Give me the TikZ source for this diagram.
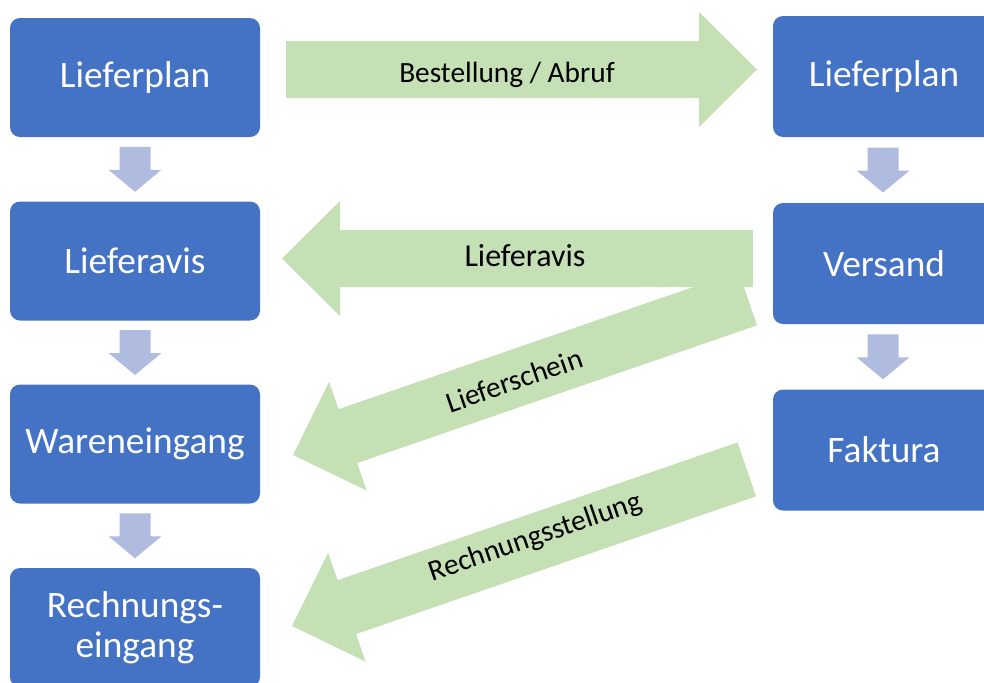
\documentclass[tikz,border=0pt]{standalone}
\usepackage{fontspec}
\setmainfont{Carlito}
\usetikzlibrary{calc}
\definecolor{boxblue}{HTML}{4472C4}
\definecolor{flowgreen}{HTML}{C5E0B4}
\definecolor{steparrow}{RGB}{175,188,224}
\tikzset{
  procbox/.style={rectangle, rounded corners=7.5pt, fill=boxblue, text=white,
    inner sep=0pt, align=center, font=\fontsize{28}{30}\selectfont},
  leftbox/.style={procbox, minimum width=187.5pt, minimum height=89.25pt},
  rightbox/.style={procbox, minimum width=166.5pt, minimum height=90.75pt},
  flowlabel/.style={font=\fontsize{22}{26}\selectfont, text=black, inner sep=0pt, anchor=base},
  pics/stepdown/.style={code={
    \fill[steparrow] (-15.5,-22.5) -- (15.5,-22.5) -- (15.5,0.5) -- (26.5,0.5)
      -- (0,22.5) -- (-26.5,0.5) -- (-15.5,0.5) -- cycle;}},
  pics/flowarrow/.style={code={
    \fill[flowgreen] (0,0) -- (58,-57.5) -- (58,-28.5) -- (#1,-28.5) -- (#1,28.5)
      -- (58,28.5) -- (58,57.5) -- cycle;}},
}
\begin{document}
\begin{tikzpicture}[x=0.75pt, y=-0.75pt]
\useasboundingbox (0,0) rectangle (984,682);
\clip (0,0) rectangle (984,682);

% green flow arrows
\pic[rotate=180] at (757,69.5) {flowarrow=471};
\pic at (282,258.5) {flowarrow=471};
\pic[rotate=19] at (293,455) {flowarrow=481};
\pic[rotate=19] at (292,626) {flowarrow=481};

% labels
\node[flowlabel] (tBest) at (507,82) {Bestellung / Abruf};
\node[flowlabel, font=\fontsize{24}{28}\selectfont] (tAvis) at (525,266) {Lieferavis};
\node[flowlabel, rotate=19] (tSchein) at (517.5,390) {Lieferschein};
\node[flowlabel, rotate=19] (tRech) at (538,545) {Rechnungsstellung};

% left column
\node[leftbox] (L1) at (135,77.5) {Lieferplan};
\node[leftbox] (L2) at (135,261) {Lieferavis};
\node[leftbox] (L3) at (135,444) {Wareneingang};
\node[leftbox] (L4) at (135,627.5) {Rechnungs-\\eingang};

% right column
\node[rightbox] (R1) at (884,76.5) {Lieferplan};
\node[rightbox] (R2) at (884,263.5) {Versand};
\node[rightbox] (R3) at (884,450) {Faktura};

% step arrows
\pic at ($(L1.south)!0.5!(L2.north)$) {stepdown};
\pic at ($(L2.south)!0.5!(L3.north)$) {stepdown};
\pic at ($(L3.south)!0.5!(L4.north)$) {stepdown};
\pic at ($(R1.south)!0.5!(R2.north)+(-1,0)$) {stepdown};
\pic at ($(R2.south)!0.5!(R3.north)+(-1,0)$) {stepdown};
\end{tikzpicture}
\end{document}
